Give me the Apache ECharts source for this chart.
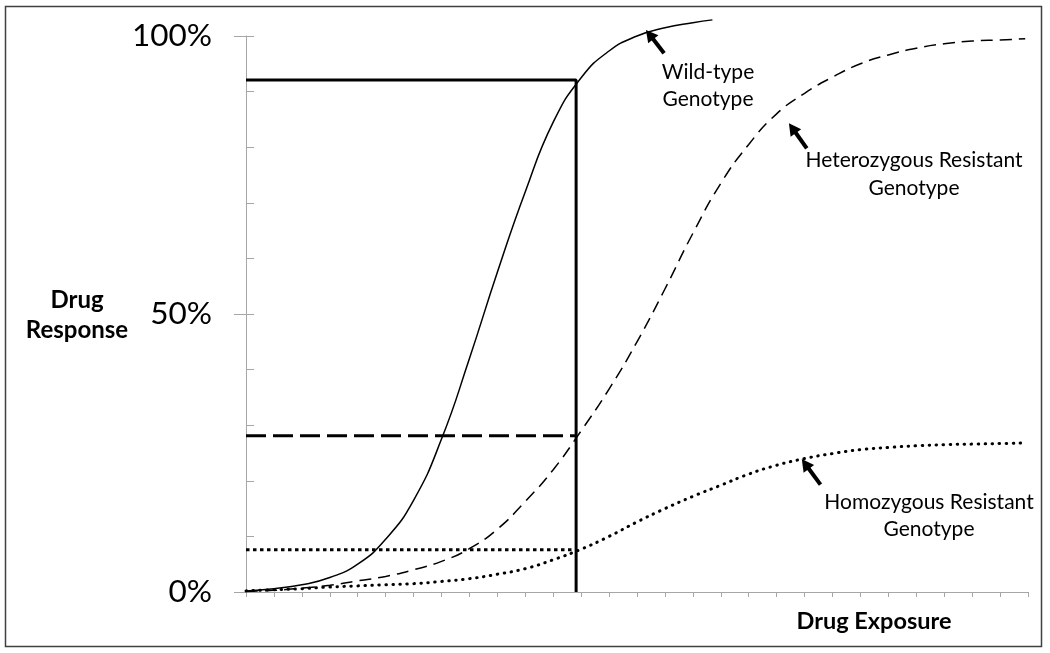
<!DOCTYPE html>
<html>
<head>
<meta charset="utf-8">
<script src="https://cdn.jsdelivr.net/npm/echarts@6/dist/echarts.min.js"></script>
<style>
  html, body { margin: 0; padding: 0; background: #fff; }
  #chart { width: 1050px; height: 653px; }
</style>
</head>
<body>
<div id="chart"></div>
<script>
// drug exposure (arbitrary units, one tick per unit) and response in %
const wildX = [0, 1, 2, 3, 4, 5, 6, 7, 8, 9, 10, 11, 12, 13, 14, 15, 16, 16.7]
const wildY = [0.2, 0.6, 1.3, 2.6, 5, 9.5, 16.5, 27.5, 42, 57.5, 72, 84.5, 92.5, 97.3, 100, 101.5, 102.4, 102.9]
const hetX = [0, 1, 2, 3, 4, 5, 6, 7, 8, 9, 10, 11, 12, 13, 14, 15, 16, 17, 18, 19, 20, 21, 22, 23, 24, 25, 26, 27, 27.9]
const hetY = [0.1, 0.3, 0.7, 1.2, 2, 2.8, 4, 5.5, 7.8, 11.3, 16.3, 22, 29, 36.5, 45, 54.5, 64.5, 73.5, 80.5, 86, 89.7, 92.6, 95, 96.6, 97.8, 98.6, 99.1, 99.3, 99.5]
const homX = hetX
const homY = [0.2, 0.4, 0.6, 0.9, 1.1, 1.3, 1.5, 1.9, 2.4, 3.2, 4.2, 5.8, 7.7, 10, 12.6, 15, 17.2, 19.2, 21.2, 22.8, 24, 24.9, 25.6, 26, 26.3, 26.5, 26.6, 26.7, 26.8]

// reference exposure and the response of each genotype at it
const refExposure = 11.82
const refWild = 92.1
const refHet = 28.1
const refHom = 7.6

const yLabels = ['0%', '50%', '100%']

// arrow annotations: [tail, head] in data coordinates
const arrows = [
  [[14.97, 96.9], [14.32, 101.1]],
  [[20.08, 79.8], [19.44, 84.3]],
  [[20.57, 19.3], [19.9, 23.9]]
]

const zip = (xs, ys) => xs.map((x, i) => [x, ys[i]])

const myChart = echarts.init(document.getElementById('chart'))
const axisGray = '#a6a6a6'
const option = {
  animation: false,
  grid: { left: 246, right: 22, top: 36, bottom: 61 },
  xAxis: {
    type: 'value',
    min: 0,
    max: 28,
    interval: 1,
    axisLine: { lineStyle: { color: axisGray, width: 1 } },
    axisTick: { show: true, length: 5, lineStyle: { color: axisGray } },
    axisLabel: { show: false },
    splitLine: { show: false }
  },
  yAxis: [
    {
      type: 'value',
      min: 0,
      max: 100,
      interval: 50,
      axisLine: { show: true, lineStyle: { color: axisGray, width: 1 } },
      axisTick: { show: true, length: 12, lineStyle: { color: axisGray } },
      axisLabel: {
        margin: 34,
        fontFamily: 'Lato',
        fontSize: 31.5,
        color: '#000',
        formatter: v => yLabels[v / 50]
      },
      splitLine: { show: false }
    },
    {
      type: 'value',
      min: 0,
      max: 100,
      interval: 10,
      position: 'left',
      axisLine: { show: false },
      axisTick: { show: true, inside: true, length: 8, lineStyle: { color: axisGray } },
      axisLabel: { show: false },
      splitLine: { show: false }
    }
  ],
  series: [
    {
      name: 'Wild-type Genotype',
      type: 'line',
      data: zip(wildX, wildY),
      smooth: 0.5,
      clip: false,
      showSymbol: false,
      lineStyle: { color: '#000', width: 1.5 }
    },
    {
      name: 'Heterozygous Resistant Genotype',
      type: 'line',
      data: zip(hetX, hetY),
      smooth: 0.5,
      showSymbol: false,
      lineStyle: { color: '#000', width: 1.5, type: [12, 7] }
    },
    {
      name: 'Homozygous Resistant Genotype',
      type: 'line',
      data: zip(homX, homY),
      smooth: 0.5,
      showSymbol: false,
      lineStyle: { color: '#000', width: 3, type: [0.5, 6.5], cap: 'round' }
    },
    {
      name: 'wild ref',
      type: 'line',
      data: [[0, refWild], [refExposure, refWild], [refExposure, 0]],
      showSymbol: false,
      lineStyle: { color: '#000', width: 3 }
    },
    {
      name: 'het ref',
      type: 'line',
      data: [[0, refHet], [refExposure, refHet]],
      showSymbol: false,
      lineStyle: { color: '#000', width: 3, type: [20, 7] }
    },
    {
      name: 'hom ref',
      type: 'line',
      data: [[0, refHom], [refExposure, refHom]],
      showSymbol: false,
      lineStyle: { color: '#000', width: 3, type: [3.5, 3.5] }
    }
  ],
  graphic: [
    {
      type: 'rect',
      shape: { x: 5.5, y: 6.5, width: 1036, height: 640 },
      style: { fill: 'none', stroke: '#404040', lineWidth: 1.5 }
    },
    {
      type: 'text', x: 77, y: 315,
      style: { text: 'Drug\nResponse', font: 'bold 24px Lato', fill: '#000', align: 'center', verticalAlign: 'middle', lineHeight: 30 }
    },
    {
      type: 'text', x: 874, y: 621,
      style: { text: 'Drug Exposure', font: 'bold 23.5px Lato', fill: '#000', align: 'center', verticalAlign: 'middle' }
    },
    {
      type: 'text', x: 708, y: 86,
      style: { text: 'Wild-type\nGenotype', font: '21px Lato', fill: '#000', align: 'center', verticalAlign: 'middle', lineHeight: 27 }
    },
    {
      type: 'text', x: 914, y: 174,
      style: { text: 'Heterozygous Resistant\nGenotype', font: '21px Lato', fill: '#000', align: 'center', verticalAlign: 'middle', lineHeight: 28 }
    },
    {
      type: 'text', x: 929, y: 516,
      style: { text: 'Homozygous Resistant\nGenotype', font: '21px Lato', fill: '#000', align: 'center', verticalAlign: 'middle', lineHeight: 27 }
    }
  ]
}
option && myChart.setOption(option)

// arrows are placed from data coords (one of them sits above 100%, which markLine would drop)
const arrowGraphics = []
arrows.forEach((a, i) => {
  const t = myChart.convertToPixel({ gridIndex: 0 }, a[0])
  const h = myChart.convertToPixel({ gridIndex: 0 }, a[1])
  const dx = h[0] - t[0]
  const dy = h[1] - t[1]
  const len = Math.sqrt(dx * dx + dy * dy)
  const ux = dx / len
  const uy = dy / len
  const headLen = 12
  const headW = 6.5
  const bx = h[0] - ux * headLen
  const by = h[1] - uy * headLen
  arrowGraphics.push({
    type: 'line',
    id: 'shaft' + i,
    shape: { x1: t[0], y1: t[1], x2: bx + ux, y2: by + uy },
    style: { stroke: '#000', lineWidth: 4 }
  })
  arrowGraphics.push({
    type: 'polygon',
    id: 'head' + i,
    shape: { points: [[h[0], h[1]], [bx - uy * headW, by + ux * headW], [bx + uy * headW, by - ux * headW]] },
    style: { fill: '#000' }
  })
})
myChart.setOption({ graphic: arrowGraphics })
</script>
</body>
</html>
